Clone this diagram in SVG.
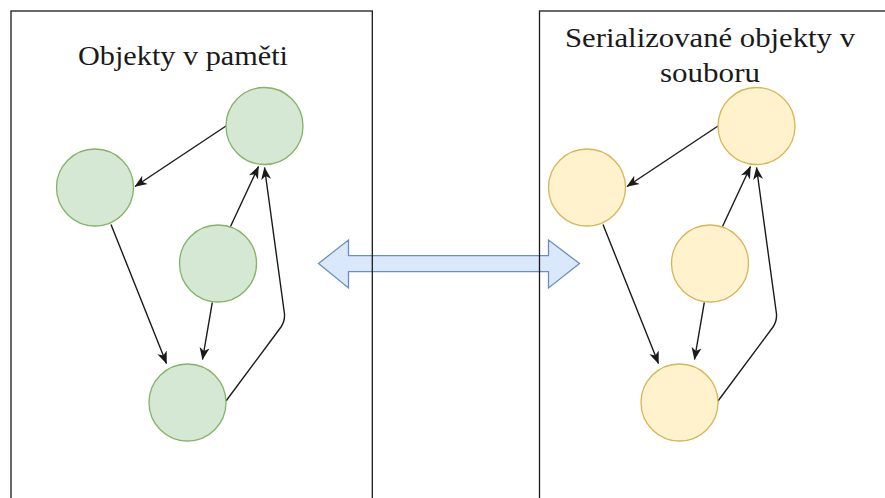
<svg xmlns="http://www.w3.org/2000/svg" width="885" height="498" viewBox="0 0 885 498">
  <style>
    .frame { fill: none; stroke: #1a1a1a; stroke-width: 1.3; }
    .title { font-family: "Liberation Serif", "Times New Roman", serif; font-size: 28px; fill: #1a1a1a; text-anchor: middle; }
    .mem { fill: #d5e8d4; stroke: #82b366; stroke-width: 1.3; }
    .file { fill: #fff2cc; stroke: #d6b656; stroke-width: 1.3; }
    .edge { fill: none; stroke: #1a1a1a; stroke-width: 1.4; marker-end: url(#arrow); }
    .link { fill: #dae8fc; stroke: #6c8ebf; stroke-width: 1.3; }
  </style>
  <defs>
    <marker id="arrow" markerUnits="userSpaceOnUse" markerWidth="13" markerHeight="11" refX="12" refY="5" orient="auto" viewBox="0 0 13 10">
      <path d="M0,0 L12.5,5 L0,10 L3.5,5 z" fill="#1a1a1a"/>
    </marker>
  </defs>
  <rect width="885" height="498" fill="#ffffff"/>

  <!-- two-way arrow between the panels -->
  <g id="transfer">
    <path class="link" d="M318.5,263.5 L348.5,240 L348.5,255.7 L548.5,255.7 L548.5,240 L579.5,263.5 L548.5,288 L548.5,271.7 L348.5,271.7 L348.5,288 Z"/>
  </g>

  <!-- panels -->
  <g id="panel-memory">
    <rect class="frame" x="11" y="11" width="361.3" height="520"/>
    <text class="title" x="183" y="64.5" textLength="210" lengthAdjust="spacingAndGlyphs">Objekty v paměti</text>
  </g>
  <g id="panel-file">
    <rect class="frame" x="539.5" y="11" width="380" height="520"/>
    <text class="title" x="710" y="46.7" textLength="290" lengthAdjust="spacingAndGlyphs">Serializované objekty v</text>
    <text class="title" x="710" y="82" textLength="100" lengthAdjust="spacingAndGlyphs">souboru</text>
  </g>

  <!-- connectors -->
  <g id="connectors">
    <path class="edge" d="M226,126 L135,186.5"/>
    <path class="edge" d="M230.5,226.5 L258.5,166.5"/>
    <path class="edge" d="M226,401 L281,327 Q285,321 284.5,314 L264.5,167.5"/>
    <path class="edge" d="M111,224.5 L166.5,363.5"/>
    <path class="edge" d="M212.3,302.3 L202.5,359.5"/>

    <path class="edge" d="M718,126 L627,186.5"/>
    <path class="edge" d="M722.5,226.5 L750.5,166.5"/>
    <path class="edge" d="M718,401 L773,327 Q777,321 776.5,314 L756.5,167.5"/>
    <path class="edge" d="M603,224.5 L658.5,363.5"/>
    <path class="edge" d="M704.3,302.3 L694.5,359.5"/>
  </g>

  <!-- objects in memory -->
  <g id="mem-a"><circle class="mem" cx="264.5" cy="126" r="38.5"/></g>
  <g id="mem-b"><circle class="mem" cx="95" cy="187.5" r="38.5"/></g>
  <g id="mem-c"><circle class="mem" cx="218" cy="263.5" r="38.5"/></g>
  <g id="mem-d"><circle class="mem" cx="187.5" cy="402.5" r="38.5"/></g>

  <!-- serialized objects -->
  <g id="file-a"><circle class="file" cx="756.5" cy="126" r="38.5"/></g>
  <g id="file-b"><circle class="file" cx="587" cy="187.5" r="38.5"/></g>
  <g id="file-c"><circle class="file" cx="710" cy="263.5" r="38.5"/></g>
  <g id="file-d"><circle class="file" cx="679.5" cy="402.5" r="38.5"/></g>
</svg>
